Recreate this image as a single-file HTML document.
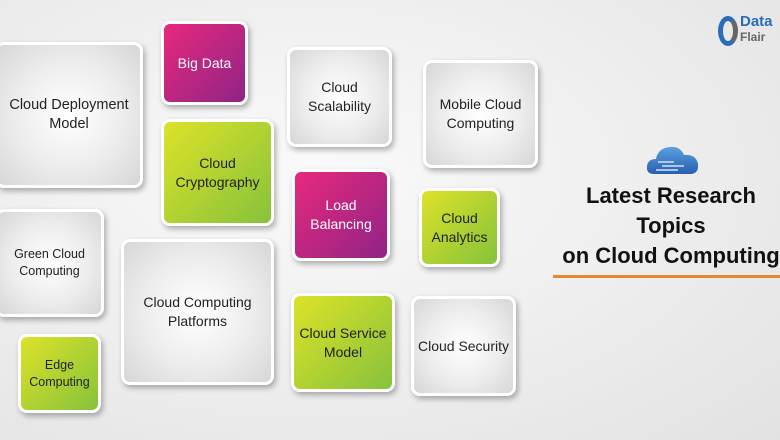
<!DOCTYPE html>
<html><head><style>
body{margin:0;width:780px;height:440px;overflow:hidden;position:relative;font-family:"Liberation Sans",sans-serif;
background:radial-gradient(ellipse at 40% 40%,#fafafa 0%,#ececec 60%,#e2e2e2 100%);}
.b{position:absolute;box-sizing:border-box;border:3px solid #fff;border-radius:9px;display:flex;align-items:center;justify-content:center;text-align:center;font-size:14px;line-height:19px;color:#222;box-shadow:2px 3px 6px rgba(0,0,0,.3);}
.g{background:radial-gradient(circle at 50% 50%,#fff 0%,#ececec 55%,#d6d6d6 100%);}
.m{background:linear-gradient(135deg,#e8287c,#8f2486);color:#fff;}
.l{background:linear-gradient(135deg,#dde229,#86c23b);}
</style></head><body>
<div class="b g" style="left:-5px;top:42px;width:148px;height:146px;font-size:14.5px">Cloud Deployment<br>Model</div>
<div class="b m" style="left:161px;top:21px;width:87px;height:84px">Big Data</div>
<div class="b g" style="left:287px;top:47px;width:105px;height:100px">Cloud<br>Scalability</div>
<div class="b g" style="left:423px;top:60px;width:115px;height:108px">Mobile Cloud<br>Computing</div>
<div class="b l" style="left:161px;top:119px;width:113px;height:107px">Cloud<br>Cryptography</div>
<div class="b m" style="left:292px;top:169px;width:98px;height:92px">Load<br>Balancing</div>
<div class="b l" style="left:419px;top:188px;width:81px;height:79px">Cloud<br>Analytics</div>
<div class="b g" style="left:-5px;top:209px;width:109px;height:108px;font-size:12.5px;line-height:17px">Green Cloud<br>Computing</div>
<div class="b g" style="left:121px;top:239px;width:153px;height:146px">Cloud Computing<br>Platforms</div>
<div class="b l" style="left:18px;top:334px;width:83px;height:79px;font-size:12.5px;line-height:17px">Edge<br>Computing</div>
<div class="b l" style="left:291px;top:293px;width:104px;height:99px">Cloud Service<br>Model</div>
<div class="b g" style="left:411px;top:296px;width:105px;height:100px">Cloud Security</div>
<svg style="position:absolute;left:646px;top:142px" width="54" height="34" viewBox="0 0 54 34">
<defs><linearGradient id="c" x1="0" y1="0" x2="0" y2="1"><stop offset="0" stop-color="#5aa0e0"/><stop offset="1" stop-color="#2a5fb0"/></linearGradient></defs>
<path d="M8 32 Q0 32 1 24 Q2 17 10 17 Q12 6 24 5 Q34 4 38 13 Q50 12 52 22 Q53 32 44 32 Z" fill="url(#c)"/>
<path d="M12 20 H28 M16 24 H38 M10 28 H32" stroke="#cfe4f8" stroke-width="1.5" fill="none"/></svg>
<div style="position:absolute;left:546px;top:181px;width:250px;text-align:center;font-weight:bold;font-size:22px;line-height:30px;color:#111;white-space:nowrap">Latest Research<br>Topics<br>on Cloud Computing</div>
<div style="position:absolute;left:553px;top:275px;width:227px;height:3px;background:#e08a2c"></div>
<div style="position:absolute;left:718px;top:16px;width:20px;height:30px;border-radius:50%;border:5px solid #2b6cb8;border-right-color:#666;box-sizing:border-box"></div>
<div style="position:absolute;left:740px;top:14px;font-weight:bold;font-size:15px;color:#2b6cb8;line-height:15px">Data<br><span style="color:#666;font-size:12px">Flair</span></div>
</body></html>
